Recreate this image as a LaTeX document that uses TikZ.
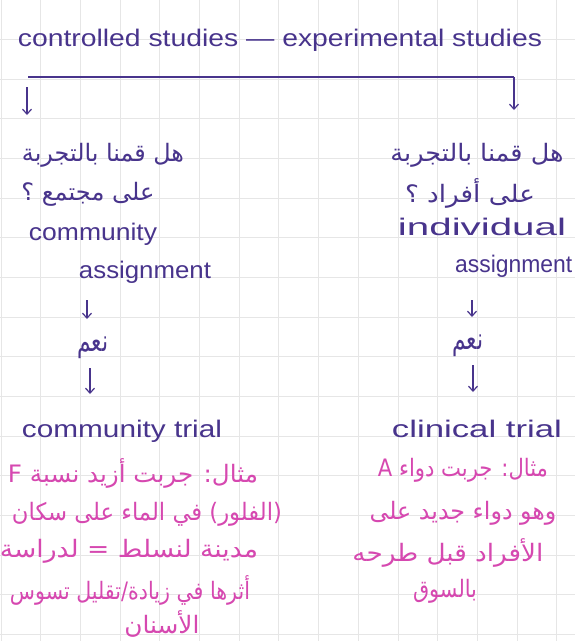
\documentclass[tikz,border=0pt]{standalone}
\usepackage{fontspec}
\usepackage{graphicx}
\setmainfont{Liberation Sans}
\newfontfamily\arabicfont[Script=Arabic]{DejaVu Sans}
\TeXXeTstate=1
\usetikzlibrary{arrows.meta}
\definecolor{ink}{RGB}{72,52,140}
\definecolor{pinkink}{RGB}{214,72,176}
\definecolor{gridc}{RGB}{230,230,230}
\newcommand{\fitw}[2]{\resizebox{#1pt}{\height}{#2}}
\newcommand{\artxt}[1]{{\arabicfont\beginR #1\endR}}
\begin{document}
\begin{tikzpicture}[x=1pt,y=-1pt,
  lat/.style={inner sep=0pt, text=ink, anchor=base, font=\fontsize{24}{24}\selectfont},
  arb/.style={inner sep=0pt, text=ink, anchor=center, font=\fontsize{24}{24}\selectfont},
  pk/.style={inner sep=0pt, text=pinkink, anchor=center, font=\fontsize{24}{24}\selectfont},
  arr/.style={draw=ink, line width=1.2pt, -{Straight Barb[length=5pt,width=9pt]}},
  conn/.style={draw=ink, line width=1.2pt},
  gridline/.style={draw=gridc, line width=1pt}]
\fill[white] (0,0) rectangle (575,641);
\useasboundingbox (0,0) rectangle (575,641);
% grid paper
\foreach \i in {0,...,14} \draw[gridline] ({1+39.7*\i},0) -- ({1+39.7*\i},641);
\foreach \j in {1,...,16} \draw[gridline] (0,{39.65*\j}) -- (575,{39.65*\j});
% title
\node[lat] (top) at (280,46) {\fitw{524}{controlled studies — experimental studies}};
% branch
\coordinate (bl) at (28,77);
\coordinate (br) at (514,77);
\coordinate (brend) at (514,110);
\coordinate (alS) at (27,87);
\coordinate (alE) at (27,115);
\draw[conn] (bl) -- (br);
\draw[arr] (br) -- (brend);
\draw[arr] (alS) -- (alE);
% left column
\node[arb] (qL1) at (103,155) {\fitw{162}{\artxt{هل قمنا بالتجربة}}};
\node[arb] (qL2) at (88,194) {\fitw{133}{\artxt{على مجتمع ؟}}};
\node[lat] (comm) at (93,240) {\fitw{128}{community}};
\node[lat] (asgL) at (145,278) {\fitw{132}{assignment}};
\node[arb, font=\fontsize{30}{30}\selectfont] (yesL) at (93,348) {\fitw{31}{\artxt{نعم}}};
\node[lat] (ctrial) at (122,437) {\fitw{200}{community trial}};
\coordinate (l1s) at (87,300);
\coordinate (l1e) at (87,319);
\coordinate (l2s) at (90,368);
\coordinate (l2e) at (90,394);
\draw[arr] (l1s) -- (l1e);
\draw[arr] (l2s) -- (l2e);
\node[pk] (exL1) at (133,473) {\fitw{250}{\artxt{مثال: جربت أزيد نسبة F}}};
\node[pk] (exL2) at (147,514) {\fitw{270}{\artxt{(الفلور) في الماء على سكان}}};
\node[pk] (exL3) at (129,551) {\fitw{258}{\artxt{مدينة لنسلط = لدراسة}}};
\node[pk] (exL4) at (130,590) {\fitw{240}{\artxt{أثرها في زيادة/تقليل تسوس}}};
\node[pk] (exL5) at (162,624) {\fitw{75}{\artxt{الأسنان}}};
% right column
\node[arb] (qR1) at (477,155) {\fitw{173}{\artxt{هل قمنا بالتجربة}}};
\node[arb] (qR2) at (470,193) {\fitw{130}{\artxt{على أفراد ؟}}};
\node[lat] (indiv) at (482,235) {\fitw{168}{individual}};
\node[lat, anchor=base west] (asgR) at (455,272) {\fitw{117}{assignment}};
\node[arb, font=\fontsize{30}{30}\selectfont] (yesR) at (468,346) {\fitw{31}{\artxt{نعم}}};
\node[lat] (cltrial) at (477,437) {\fitw{170}{clinical trial}};
\coordinate (r1s) at (472,300);
\coordinate (r1e) at (472,317);
\coordinate (r2s) at (473,365);
\coordinate (r2e) at (473,392);
\draw[arr] (r1s) -- (r1e);
\draw[arr] (r2s) -- (r2e);
\node[pk] (exR1) at (463,470) {\fitw{170}{\artxt{مثال: جربت دواء A}}};
\node[pk] (exR2) at (463,513) {\fitw{187}{\artxt{وهو دواء جديد على}}};
\node[pk] (exR3) at (448,553) {\fitw{191}{\artxt{الأفراد قبل طرحه}}};
\node[pk] (exR4) at (445,591) {\fitw{64}{\artxt{بالسوق}}};
\end{tikzpicture}
\end{document}
